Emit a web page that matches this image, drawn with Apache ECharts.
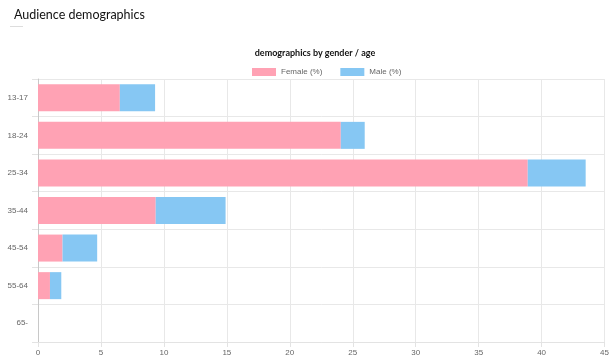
<!DOCTYPE html>
<html><head><meta charset="utf-8">
<script src="https://cdn.jsdelivr.net/npm/echarts@6/dist/echarts.min.js"></script>
<style>html,body{margin:0;padding:0;background:#fff}#c{width:612px;height:364px}</style>
</head><body><div id="c"></div>
<script>
const categories = ['13-17','18-24','25-34','35-44','45-54','55-64','65-'];
const female = [6.5, 24.05, 38.9, 9.35, 1.95, 0.95, 0];
const male = [2.8, 1.9, 4.6, 5.55, 2.75, 0.9, 0];
const xTicks = {min: 0, max: 45, interval: 5};

const chart = echarts.init(document.getElementById('c'), null, {renderer: 'canvas'});
chart.setOption({
  animation: false,
  title: [
    {text: 'Audience demographics', left: 9, top: 3,
     textStyle: {fontFamily: 'Lato', fontWeight: 400, fontSize: 12.5, color: '#111'}},
    {text: 'demographics by gender / age', left: 310, top: 44, textAlign: 'center',
     textStyle: {fontFamily: 'Lato', fontWeight: 'bold', fontSize: 9, color: '#111'}}
  ],
  graphic: [
    {type: 'line', shape: {x1: 10, y1: 26.5, x2: 23, y2: 26.5}, style: {stroke: '#ddd', lineWidth: 1}}
  ],
  legend: {
    left: 247, top: 63, itemWidth: 24, itemHeight: 8, itemGap: 18, icon: 'rect',
    textStyle: {fontSize: 8, color: '#666', fontFamily: 'Liberation Sans'},
    data: ['Female (%)', 'Male (%)']
  },
  grid: {left: 38, right: 7, top: 79, bottom: 22, containLabel: false},
  xAxis: {
    type: 'value', min: xTicks.min, max: xTicks.max, interval: xTicks.interval,
    axisLine: {show: true, lineStyle: {color: '#e3e3e3'}},
    axisTick: {show: true, length: 5, lineStyle: {color: '#e3e3e3'}},
    splitLine: {show: true, lineStyle: {color: '#e8e8e8'}},
    axisLabel: {fontSize: 8, color: '#666', margin: 7, fontFamily: 'Liberation Sans'}
  },
  yAxis: {
    type: 'category', data: categories, inverse: true,
    axisLine: {show: true, lineStyle: {color: '#c8c8c8'}},
    axisTick: {show: true, length: 6, lineStyle: {color: '#e3e3e3'}},
    splitLine: {show: true, lineStyle: {color: '#e8e8e8'}},
    axisLabel: {fontSize: 8, color: '#666', margin: 10, fontFamily: 'Liberation Sans'}
  },
  series: [
    {name: 'Female (%)', type: 'bar', stack: 'a', data: female, barWidth: 27,
     itemStyle: {color: '#ffa2b4'}},
    {name: 'Male (%)', type: 'bar', stack: 'a', data: male, barWidth: 27,
     itemStyle: {color: '#86c7f3'}}
  ]
});
</script></body></html>
